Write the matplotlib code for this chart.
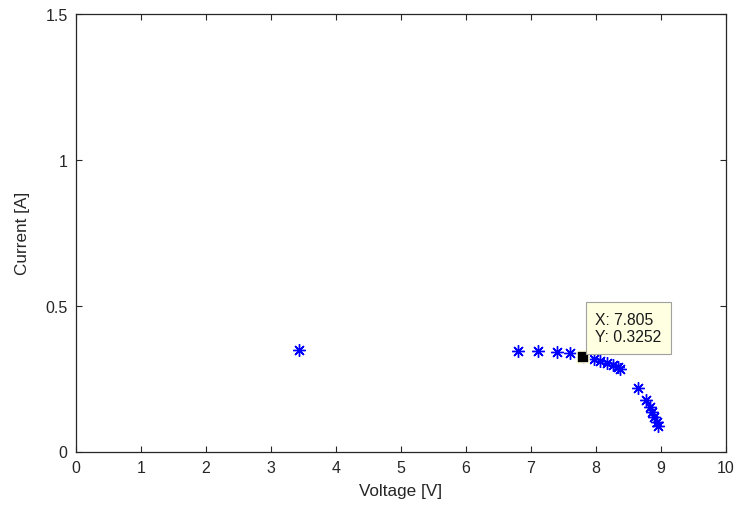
import matplotlib
matplotlib.use("Agg")
import matplotlib.pyplot as plt

voltage = [3.44, 6.81, 7.12, 7.40, 7.61, 7.805, 7.97, 8.07, 8.18, 8.27, 8.34, 8.38,
           8.66, 8.77, 8.83, 8.87, 8.90, 8.94, 8.96]
current = [0.348, 0.345, 0.345, 0.341, 0.337, 0.3252, 0.318, 0.312, 0.305, 0.298, 0.291, 0.282,
           0.218, 0.177, 0.153, 0.136, 0.118, 0.101, 0.088]
tip_x, tip_y = 7.805, 0.3252
x_ticks = list(range(0, 11))
y_ticks = [0, 0.5, 1, 1.5]
y_tick_labels = ["0", "0.5", "1", "1.5"]

plt.rcParams['font.family'] = ['Liberation Sans', 'DejaVu Sans']
fig = plt.figure(figsize=(7.38, 5.06), dpi=100)
ax = fig.add_axes([76/738, 1 - 452.5/506, (725.5-76)/738, (452.5-15)/506])

ax.plot(voltage, current, linestyle='none', marker=(8, 2, 0), markersize=9,
        color='#0000ff', markeredgewidth=1.0)
ax.plot([tip_x], [tip_y], linestyle='none', marker='s', markersize=9,
        color='black', markeredgecolor='#ffffe1', markeredgewidth=1.2)
ax.annotate(f"X: {tip_x}\nY: {tip_y}", xy=(tip_x, tip_y), xytext=(9, 9),
            textcoords='offset points', fontsize=11.3, va='bottom', ha='left',
            linespacing=1.2, color='#1a1a1a',
            bbox=dict(boxstyle='square,pad=0.6', fc='#ffffe1', ec='#a0a0a0', lw=0.8))

ax.set_xlim(0, 10)
ax.set_ylim(0, 1.5)
ax.set_xticks(x_ticks)
ax.set_yticks(y_ticks)
ax.set_yticklabels(y_tick_labels)
ax.tick_params(direction='in', length=4, width=0.8, labelsize=11.5, colors='#262626',
               top=True, right=True, pad=6)
for s in ax.spines.values():
    s.set_color('#262626')
    s.set_linewidth(0.9)
ax.set_xlabel("Voltage [V]", fontsize=12.3, color='#262626', labelpad=6)
ax.set_ylabel("Current [A]", fontsize=12.3, color='#262626', labelpad=11)

fig.savefig("out.png", dpi=100)
